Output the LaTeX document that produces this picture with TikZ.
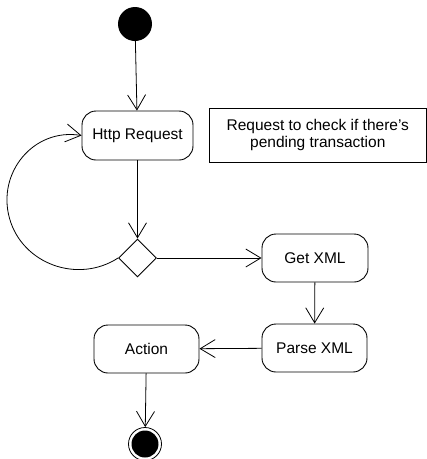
\documentclass[tikz,border=0pt]{standalone}
\usepackage{fontspec}
\setmainfont{Liberation Sans}
\usetikzlibrary{arrows.meta,shapes.geometric}
\begin{document}
\begin{tikzpicture}[x=1pt,y=-1pt,
  act/.style={draw,rounded corners=14pt,minimum height=48pt,inner sep=0pt,line width=0.9pt,font=\fontsize{15.5}{17}\selectfont},
  flow/.style={-{Straight Barb[length=15pt,width=18pt,line width=0.8pt]}, line width=0.8pt},
  notebox/.style={draw,line width=0.9pt,align=center,font=\fontsize{15.5}{16.5}\selectfont}
]
\useasboundingbox (0,0) rectangle (427,459);
\node[circle,fill=black,minimum size=34pt,inner sep=0pt] (start) at (135,24) {};
\node[act,minimum width=111pt,minimum height=49pt] (http) at (137.5,135.5) {Http Request};
\node[notebox,minimum width=217pt,minimum height=54pt,inner sep=0pt] (note) at (317.8,135) {Request to check if there's\\pending transaction};
\node[diamond,draw,line width=0.9pt,minimum width=38pt,minimum height=38pt,inner sep=0pt] (d) at (137.5,258) {};
\node[act,minimum width=106pt] (get) at (315,258) {Get XML};
\node[act,minimum width=105pt] (parse) at (314.5,348) {Parse XML};
\node[act,minimum width=105pt] (action) at (146.5,349) {Action};
\node[circle,draw,line width=0.8pt,minimum size=33pt,inner sep=0pt] (end) at (145,444) {};
\node[circle,fill=black,minimum size=27pt,inner sep=0pt] (endin) at (end.center) {};

\draw[flow] (start) -- (http);
\draw[flow] (http) -- (d);
\draw[flow] (d) -- (get);
\draw[flow] (get) -- (parse);
\draw[flow] (parse) -- (action);
\draw[flow] (action) -- (end);
\coordinate (lp) at (9.5,218.3);
\draw[flow] (d.west) .. controls (78,284) and (22.3,264.2) .. (lp) .. controls (-3.3,172.4) and (33.9,127.8) .. (http.west);
\end{tikzpicture}
\end{document}
